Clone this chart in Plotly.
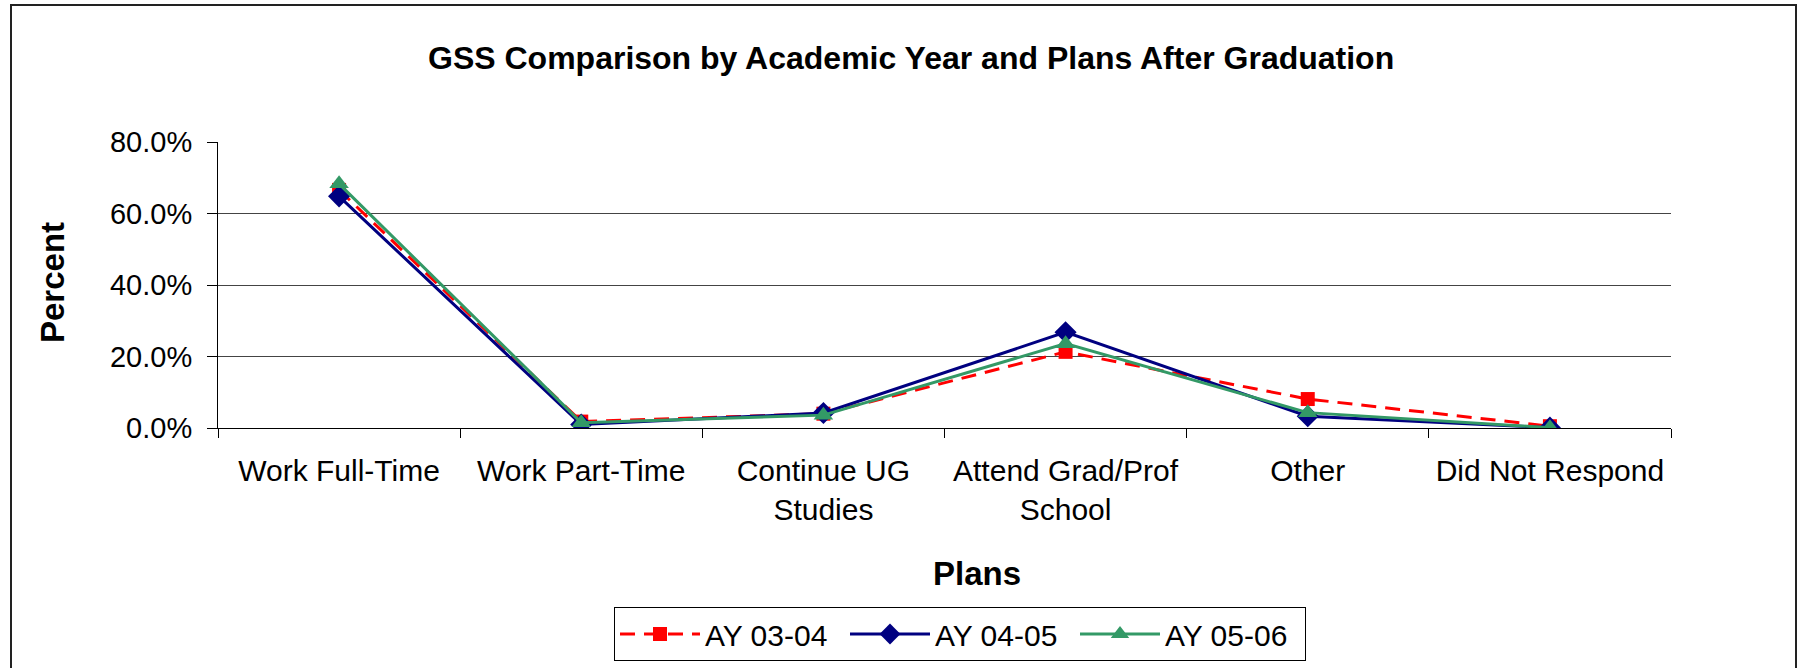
import plotly.graph_objects as go

categories = ["Work Full-Time", "Work Part-Time", "Continue UG<br>Studies",
              "Attend Grad/Prof<br>School", "Other", "Did Not Respond"]
ay_03_04 = [66.6, 1.8, 4.0, 21.3, 8.1, 0.5]
ay_04_05 = [64.8, 1.0, 4.2, 26.8, 3.3, 0.1]
ay_05_06 = [68.3, 1.5, 3.6, 23.6, 4.3, 0.1]
y_ticks = [0, 20, 40, 60, 80]
y_tick_labels = ["0.0%", "20.0%", "40.0%", "60.0%", "80.0%"]

FONT = "Liberation Sans, Arial, sans-serif"
W, H = 1810, 668
L, R, T, B = 218, 139, 142, 240
pw, ph = W - L - R, H - T - B

def px_x(x):
    return (x - L) / pw

def px_y(y):
    return (H - B - y) / ph

fig = go.Figure()
fig.add_trace(go.Scatter(x=categories, y=ay_03_04, name="AY 03-04", mode="lines+markers",
                         line=dict(color="#FF0000", width=3, dash="15px,9px"),
                         marker=dict(symbol="square", size=14, color="#FF0000")))
fig.add_trace(go.Scatter(x=categories, y=ay_04_05, name="AY 04-05", mode="lines+markers",
                         line=dict(color="#000080", width=3),
                         marker=dict(symbol="diamond", size=17, color="#000080")))
fig.add_trace(go.Scatter(x=categories, y=ay_05_06, name="AY 05-06", mode="lines+markers",
                         line=dict(color="#339966", width=3),
                         marker=dict(symbol="triangle-up", size=17, color="#339966")))

fig.update_layout(
    width=W, height=H,
    margin=dict(l=L, r=R, t=T, b=B, autoexpand=False),
    paper_bgcolor="white", plot_bgcolor="white",
    font=dict(family=FONT, size=29, color="black"),
    showlegend=True,
    legend=dict(orientation="h", x=px_x(960), xanchor="center", y=px_y(607), yanchor="top",
                bordercolor="black", borderwidth=1, font=dict(size=30, family=FONT),
                itemwidth=80, entrywidth=135, entrywidthmode="pixels",
                tracegroupgap=0, bgcolor="white"),
    xaxis=dict(type="category", range=[-0.5, 5.5], tickson="boundaries", ticks="outside",
               ticklen=9, tickcolor="black", showline=True, linecolor="black", linewidth=1,
               showgrid=False, tickfont=dict(size=30, family=FONT), ticklabelstandoff=16),
    yaxis=dict(range=[0, 80], tickmode="array", tickvals=y_ticks, ticktext=y_tick_labels,
               ticks="outside", ticklen=10, tickcolor="black", showline=True,
               linecolor="black", linewidth=1, showgrid=True, gridcolor="#444444",
               gridwidth=1, zeroline=False, tickfont=dict(size=29, family=FONT),
               ticklabelstandoff=9),
    annotations=[
        dict(text="<b>GSS Comparison by Academic Year and Plans After Graduation</b>",
             xref="paper", yref="paper", x=px_x(911), y=px_y(58), xanchor="center",
             yanchor="middle", showarrow=False, font=dict(size=32, family=FONT)),
        dict(text="<b>Plans</b>", xref="paper", yref="paper", x=px_x(977), y=px_y(573),
             xanchor="center", yanchor="middle", showarrow=False, font=dict(size=33, family=FONT)),
        dict(text="<b>Percent</b>", xref="paper", yref="paper", x=px_x(52), y=px_y(283),
             xanchor="center", yanchor="middle", showarrow=False, textangle=-90,
             font=dict(size=33, family=FONT)),
    ],
    shapes=[dict(type="rect", xref="paper", yref="paper", x0=px_x(11), x1=px_x(1796),
                 y0=px_y(700), y1=px_y(5), line=dict(color="#222222", width=2), layer="below")],
)

fig.write_html("out.html", config={"displayModeBar": False},
               post_script="document.body.style.margin='0px';")
